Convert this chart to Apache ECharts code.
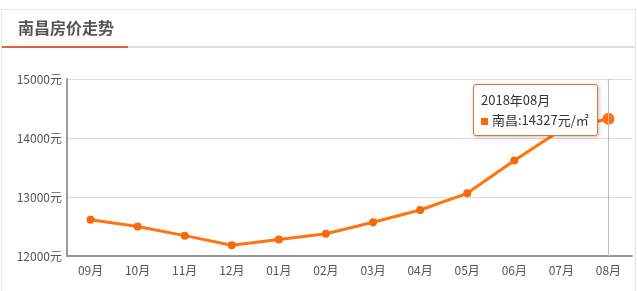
<!DOCTYPE html>
<html><head><meta charset="utf-8">
<script src="https://cdn.jsdelivr.net/npm/echarts@6/dist/echarts.min.js"></script>
<style>html,body{margin:0;padding:0;background:#fff}#c{width:637px;height:291px}</style>
</head><body><div id="c"></div>
<script>
const titleText = '南昌房价走势';
const seriesName = '南昌';
const categories = ['09月','10月','11月','12月','01月','02月','03月','04月','05月','06月','07月','08月'];
const tipLabels = ['2017年09月','2017年10月','2017年11月','2017年12月','2018年01月','2018年02月','2018年03月','2018年04月','2018年05月','2018年06月','2018年07月','2018年08月'];
const prices = [12615, 12500, 12345, 12182, 12278, 12378, 12572, 12780, 13062, 13618, 14140, 14327];
const yTicks = [12000, 13000, 14000, 15000];

const FONT = '"Noto Sans CJK SC", sans-serif';
const chart = echarts.init(document.getElementById('c'), null, {renderer:'canvas'});
chart.setOption({
  animation:false,
  graphic:[
    {type:'rect', shape:{x:1.5,y:9.5,width:634,height:290}, style:{fill:'none',stroke:'#e6e6e6',lineWidth:1}, silent:true},
    {type:'rect', shape:{x:2,y:46,width:633,height:2}, style:{fill:'#dcdcdc'}, silent:true},
    {type:'rect', shape:{x:2,y:46,width:126,height:2}, style:{fill:'#e0623b'}, silent:true},
    {type:'text', left:18, top:20, style:{text:titleText, fontSize:16, fontWeight:'bold', fill:'#555', fontFamily:FONT}}
  ],
  grid:{left:67, right:5, top:79, bottom:35},
  tooltip:{
    trigger:'axis',
    alwaysShowContent:true,
    transitionDuration:0,
    backgroundColor:'#fff',
    borderColor:'#e8732a',
    borderWidth:1,
    padding:[5,8,5,7],
    textStyle:{color:'#333', fontSize:13, fontFamily:FONT},
    extraCssText:'border-radius:3px;box-shadow:1px 1px 4px rgba(0,0,0,0.25);line-height:20px;',
    position:function(){return [473, 84];},
    axisPointer:{type:'line', lineStyle:{color:'#bbb', width:1, type:'solid'}},
    formatter:function(params){
      const p = params[0];
      return tipLabels[p.dataIndex] + '<br/><span style="display:inline-block;width:7px;height:7px;background:#f5690f;margin-right:4px;vertical-align:middle"></span>' + seriesName + ':' + p.value + '元/㎡';
    }
  },
  xAxis:{
    type:'category', data:categories, boundaryGap:true,
    axisLine:{lineStyle:{color:'#999', width:2}},
    axisTick:{alignWithLabel:true, length:4, lineStyle:{color:'#999'}},
    axisLabel:{color:'#555', fontSize:12, margin:8, fontFamily:FONT}
  },
  yAxis:{
    type:'value', min:yTicks[0], max:yTicks[yTicks.length-1], interval:1000,
    axisLine:{show:true, lineStyle:{color:'#999', width:2}},
    axisTick:{show:false},
    axisLabel:{color:'#555', fontSize:12, margin:5, formatter:function(v){return v + '元';}, fontFamily:FONT},
    splitLine:{lineStyle:{color:'#ddd'}}
  },
  series:[{
    name:seriesName, type:'line', data:prices,
    symbol:'circle', symbolSize:8,
    itemStyle:{color:'#f5690f'},
    lineStyle:{color:'#f5690f', width:3},
    emphasis:{scale:1.5}
  }]
});
chart.dispatchAction({type:'showTip', seriesIndex:0, dataIndex:11});
</script></body></html>
